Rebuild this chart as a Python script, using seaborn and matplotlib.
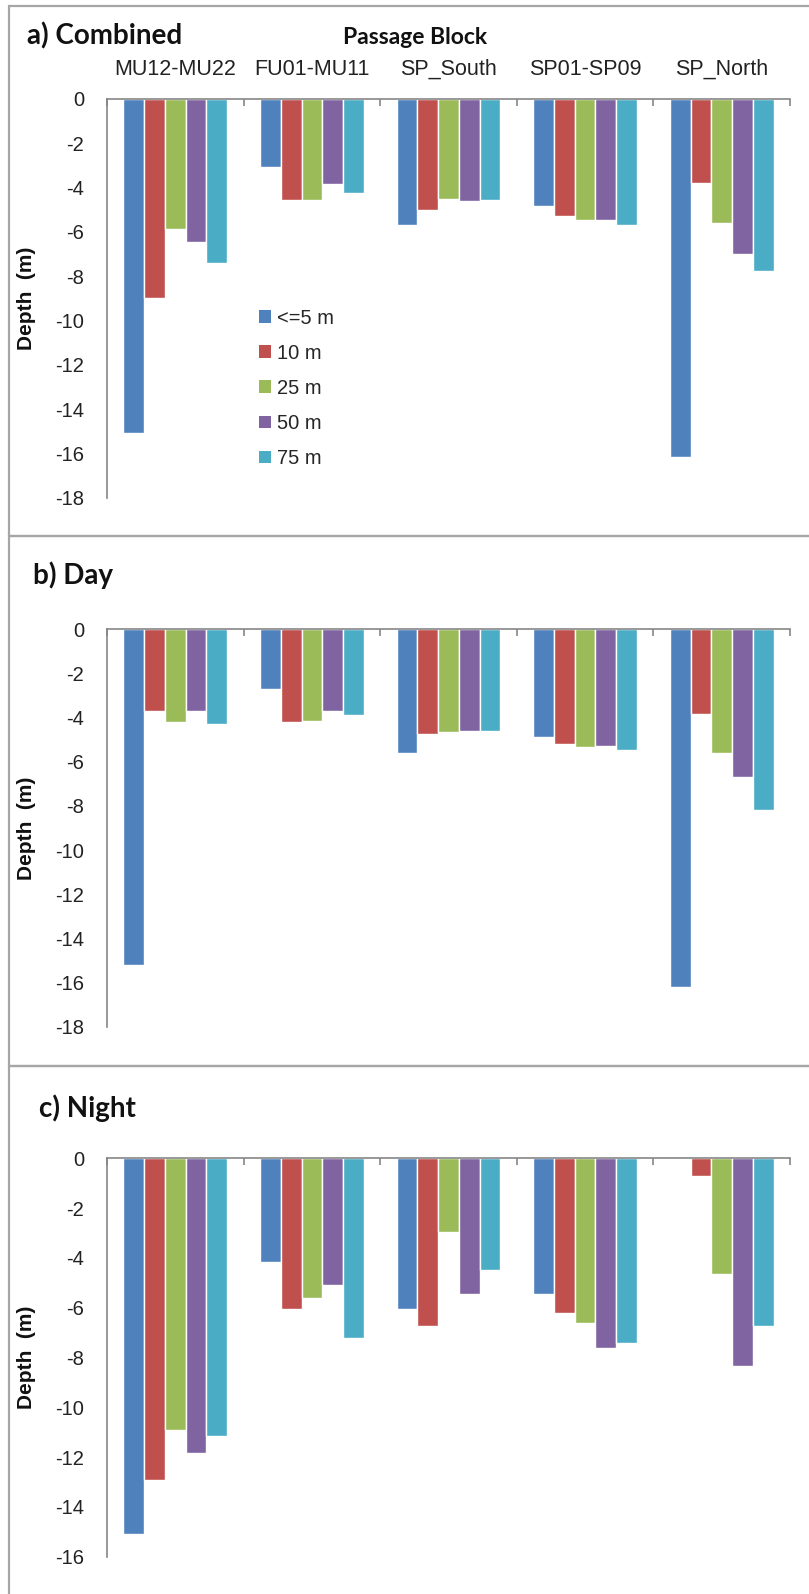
import matplotlib
matplotlib.use("Agg")
import matplotlib.pyplot as plt
from matplotlib.patches import Rectangle, Patch
import seaborn as sns
import pandas as pd

# ---- data (depth in m, one value per passage block) ----
blocks = ["MU12-MU22", "FU01-MU11", "SP_South", "SP01-SP09", "SP_North"]
spacings = ["<=5 m", "10 m", "25 m", "50 m", "75 m"]
colors = ["#4F81BD", "#C0504D", "#9BBB59", "#8064A2", "#4BACC6"]

combined = {
    "<=5 m": [-15.1, -3.05, -5.7, -4.85, -16.15],
    "10 m":  [-9.0, -4.55, -5.0, -5.3, -3.8],
    "25 m":  [-5.85, -4.55, -4.5, -5.45, -5.6],
    "50 m":  [-6.45, -3.85, -4.6, -5.45, -7.0],
    "75 m":  [-7.4, -4.25, -4.55, -5.7, -7.75],
}
day = {
    "<=5 m": [-15.2, -2.7, -5.6, -4.9, -16.2],
    "10 m":  [-3.7, -4.2, -4.75, -5.2, -3.85],
    "25 m":  [-4.2, -4.15, -4.65, -5.35, -5.6],
    "50 m":  [-3.7, -3.7, -4.6, -5.3, -6.7],
    "75 m":  [-4.3, -3.9, -4.6, -5.45, -8.2],
}
night = {
    "<=5 m": [-15.1, -4.15, -6.05, -5.45, 0.0],
    "10 m":  [-12.9, -6.05, -6.75, -6.2, -0.7],
    "25 m":  [-10.9, -5.6, -2.95, -6.6, -4.65],
    "50 m":  [-11.85, -5.1, -5.45, -7.6, -8.35],
    "75 m":  [-11.15, -7.2, -4.5, -7.4, -6.75],
}

sns.set_theme(style="white")
plt.rcParams["font.family"] = ["Liberation Sans", "DejaVu Sans"]
plt.rcParams["axes.unicode_minus"] = False

W, H = 809, 1594
fig = plt.figure(figsize=(W / 100, H / 100), dpi=100)
fig.patch.set_facecolor("white")

frame_col = "#A6A6A6"
axis_col = "#868686"
title_font = ["Lato", "DejaVu Sans"]


def to_long(d):
    rows = []
    for sp in spacings:
        for b, v in zip(blocks, d[sp]):
            rows.append({"block": b, "spacing": sp, "depth": v})
    return pd.DataFrame(rows)


def px_rect(top, bottom, left=107, right=790):
    return [left / W, 1 - bottom / H, (right - left) / W, (bottom - top) / H]


panels = [
    ("a) Combined", combined, -18, 27, 36, 6, 536, 99, 497.7),
    ("b) Day", day, -18, 33, 575, 536, 1066, 629.3, 1026.7),
    ("c) Night", night, -16, 39, 1108, 1066, 1610, 1158.3, 1556.7),
]

for i, (title, data, ymin, tx, ty, ftop, fbot, atop, abot) in enumerate(panels):
    # chart frame
    fig.add_artist(Rectangle((9 / W, 1 - fbot / H), 1.0, (fbot - ftop) / H,
                             transform=fig.transFigure, fill=False,
                             edgecolor=frame_col, linewidth=1.6))

    ax = fig.add_axes(px_rect(atop, abot))
    ax.set_facecolor("none")
    sns.barplot(data=to_long(data), x="block", y="depth", hue="spacing",
                hue_order=spacings, order=blocks, palette=colors,
                width=0.76, saturation=1, errorbar=None, legend=False, ax=ax)

    ax.set_ylim(ymin, 0)
    ax.set_xlim(-0.5, len(blocks) - 0.5)
    ax.set_yticks(range(0, ymin - 1, -2))
    ax.set_yticklabels([str(t) for t in range(0, ymin - 1, -2)])
    ax.set_xlabel("")
    ax.set_ylabel("")

    for s in ["right", "bottom"]:
        ax.spines[s].set_visible(False)
    for s in ["left", "top"]:
        ax.spines[s].set_color(axis_col)
        ax.spines[s].set_linewidth(1.2)

    ax.xaxis.tick_top()
    ax.set_xticks([k - 0.5 for k in range(len(blocks) + 1)])
    ax.set_xticklabels([])
    ax.tick_params(axis="x", which="major", direction="in", length=5,
                   color=axis_col, width=1.2)
    ax.tick_params(axis="y", direction="out", length=4.5, color=axis_col,
                   width=1.2, labelsize=14.5, pad=12, labelcolor="#222222")
    if i == 0:
        ax.set_xticks(range(len(blocks)), minor=True)
        ax.set_xticklabels(blocks, minor=True, fontsize=15.5, color="#222222")
        ax.tick_params(axis="x", which="minor", length=0, pad=14)
        handles = [Patch(facecolor=c, edgecolor="none") for c in colors]
        ax.legend(handles, spacings, loc="upper left",
                  bbox_to_anchor=(0.222, 0.474), frameon=False,
                  fontsize=14.5, handlelength=0.6, handleheight=0.6,
                  handletextpad=0.3, labelspacing=0.8, borderpad=0,
                  borderaxespad=0)
        fig.text(415 / W, 1 - 37 / H, "Passage Block", ha="center",
                 va="center", fontsize=16.5, fontweight="bold",
                 family=title_font, color="#111111")

    fig.text(tx / W, 1 - ty / H, title, ha="left", va="center",
             fontsize=20, fontweight="bold", family=title_font,
             color="#111111")
    fig.text(27 / W, 1 - (atop + abot) / 2 / H, "Depth  (m)", rotation=90,
             ha="center", va="center", fontsize=15, fontweight="bold",
             color="#111111")

fig.savefig("out.png", dpi=100, facecolor="white")
